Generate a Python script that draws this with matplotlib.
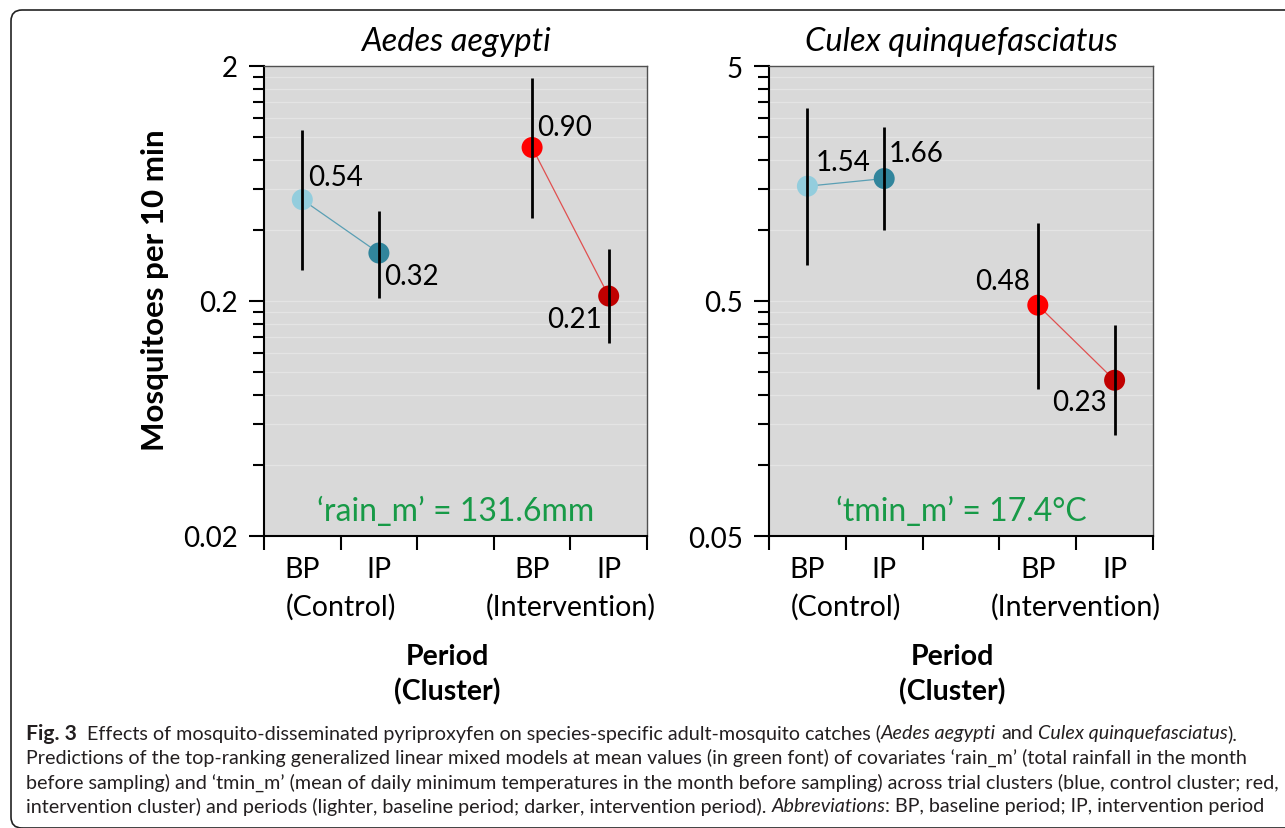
import numpy as np
import matplotlib
matplotlib.use("Agg")
import matplotlib.pyplot as plt
from matplotlib import ticker
from matplotlib.patches import FancyBboxPatch
from matplotlib.transforms import IdentityTransform

plt.rcParams['font.family'] = ['Lato', 'DejaVu Sans']

# data
periods = ["BP", "IP", "BP", "IP"]
clusters = ["(Control)", "(Intervention)"]
species = ["Aedes aegypti", "Culex quinquefasciatus"]
covariate_notes = ["\u2018rain_m\u2019 = 131.6mm", "\u2018tmin_m\u2019 = 17.4\u00b0C"]

aedes_mean = [0.54, 0.32, 0.90, 0.21]
aedes_low = [0.27, 0.205, 0.45, 0.133]
aedes_high = [1.07, 0.485, 1.78, 0.333]

culex_mean = [1.54, 1.66, 0.48, 0.23]
culex_low = [0.71, 1.0, 0.211, 0.134]
culex_high = [3.31, 2.74, 1.07, 0.397]

y_limits = [(0.02, 2), (0.05, 5)]
y_major = [[0.02, 0.2, 2], [0.05, 0.5, 5]]
y_major_labels = [["0.02", "0.2", "2"], ["0.05", "0.5", "5"]]

# styling
W, H = 1285, 829
point_colors = ["#93cddd", "#31859c", "#ff0000", "#c00000"]
pair_line_colors = ["#5a9fb4", "#e05050"]
green = "#179a47"
xpos = [0.5, 1.5, 3.5, 4.5]
label_offsets = [
    [(6, 23, "left"), (5, -23, "left"), (5, 20, "left"), (-7, -23, "right")],
    [(8, 24, "left"), (4, 26, "left"), (-8, 24, "right"), (-8, -22, "right")],
]

fig = plt.figure(figsize=(W / 100, H / 100), dpi=100)
ax_boxes = [[264 / W, 1 - 537 / H, 383 / W, 470 / H],
            [769 / W, 1 - 537 / H, 384 / W, 470 / H]]

series = [(aedes_mean, aedes_low, aedes_high), (culex_mean, culex_low, culex_high)]

for i, (mean, low, high) in enumerate(series):
    ax = fig.add_axes(ax_boxes[i])
    ax.set_facecolor("#d9d9d9")
    ax.set_yscale("log")
    ax.set_ylim(*y_limits[i])
    ax.set_xlim(0, 5)
    lo_major = y_major[i][0]
    minors = list(np.arange(2, 10) * lo_major) + list(np.arange(2, 10) * lo_major * 10)
    ax.yaxis.set_major_locator(ticker.FixedLocator(y_major[i]))
    ax.yaxis.set_major_formatter(ticker.FixedFormatter(y_major_labels[i]))
    ax.yaxis.set_minor_locator(ticker.FixedLocator(minors))
    ax.yaxis.set_minor_formatter(ticker.NullFormatter())
    ax.yaxis.grid(True, which="both", color="#e4e4e4", lw=0.9)
    ax.set_axisbelow(True)
    ax.set_xticks(range(6))
    ax.set_xticklabels([])
    ax.tick_params(axis="y", which="major", length=11, width=1.5, labelsize=20, pad=8)
    ax.tick_params(axis="y", which="minor", length=8, width=1.5)
    ax.tick_params(axis="x", length=10, width=1.5)
    for s in ["left", "bottom"]:
        ax.spines[s].set_linewidth(1.5)
        ax.spines[s].set_color("black")
    for s in ["top", "right"]:
        ax.spines[s].set_linewidth(1.0)
        ax.spines[s].set_color("#505050")

    # connecting lines per cluster
    for g in range(2):
        ax.plot(xpos[2 * g:2 * g + 2], mean[2 * g:2 * g + 2], color=pair_line_colors[g],
                lw=0.9, zorder=3)
    ax.scatter(xpos, mean, s=(21 * 0.72) ** 2, c=point_colors, zorder=4,
               edgecolors="none")
    ax.vlines(xpos, low, high, color="black", lw=2, zorder=5)

    for j, v in enumerate(mean):
        dx, dy, ha = label_offsets[i][j]
        ax.annotate(f"{v:.2f}", (xpos[j], v), xytext=(dx, dy), textcoords="offset pixels",
                    ha=ha, va="center", fontsize=20, zorder=6)

    xt = ax.get_xaxis_transform()
    for j, p in enumerate(periods):
        ax.text(xpos[j], -0.07, p, transform=xt, ha="center", va="center", fontsize=20.5)
    ax.text(1.0, -0.149, clusters[0], transform=xt, ha="center", va="center", fontsize=20.5)
    ax.text(4.0, -0.149, clusters[1], transform=xt, ha="center", va="center", fontsize=20.5)
    ax.text(0.478, -0.255, "Period", transform=ax.transAxes, ha="center", va="center",
            fontsize=20.5, fontweight="bold")
    ax.text(0.478, -0.33, "(Cluster)", transform=ax.transAxes, ha="center", va="center",
            fontsize=20.5, fontweight="bold")
    ax.text(0.5, 1.053, species[i], transform=ax.transAxes, ha="center", va="center",
            fontsize=23.5, style="italic")
    ax.text(0.5, 0.053, covariate_notes[i], transform=ax.transAxes, ha="center",
            va="center", fontsize=23, color=green)
    if i == 0:
        ax.text(-0.285, 0.526, "Mosquitoes per 10 min", transform=ax.transAxes,
                rotation=90, ha="center", va="center", fontsize=22.5, fontweight="bold")

# outer rounded frame
frame = FancyBboxPatch((11, 0), 1330, 818, boxstyle="round,pad=0,rounding_size=11",
                       transform=IdentityTransform(), fill=False, lw=1.2, ec="#222222")
fig.patches.append(frame)

# caption with mixed styles
caption = [
    [("Fig. 3", "bold"), ("  Effects of mosquito-disseminated pyriproxyfen on species-specific adult-mosquito catches (", "normal"),
     ("Aedes aegypti", "italic"), (" and ", "normal"), ("Culex quinquefasciatus", "italic"), (").", "normal")],
    [("Predictions of the top-ranking generalized linear mixed models at mean values (in green font) of covariates \u2018rain_m\u2019 (total rainfall in the month", "normal")],
    [("before sampling) and \u2018tmin_m\u2019 (mean of daily minimum temperatures in the month before sampling) across trial clusters (blue, control cluster; red,", "normal")],
    [("intervention cluster) and periods (lighter, baseline period; darker, intervention period). ", "normal"),
     ("Abbreviations", "italic"), (": BP, baseline period; IP, intervention period", "normal")],
]
cap_size = 14.2
cap_y = [734, 758, 783, 807]
renderer = fig.canvas.get_renderer()


def width_of(s, **kw):
    t = fig.text(0, 0, s, fontsize=cap_size, **kw)
    w = t.get_window_extent(renderer).width
    t.remove()
    return w


space_w = width_of("a a") - width_of("aa")
for line, yy in zip(caption, cap_y):
    x = 26
    for txt, sty in line:
        kw = {}
        if sty == "bold":
            kw["fontweight"] = "bold"
            kw["fontsize"] = cap_size + 1
        elif sty == "italic":
            kw["style"] = "italic"
        lead = len(txt) - len(txt.lstrip(" "))
        trail = len(txt) - len(txt.rstrip(" "))
        core = txt.strip(" ")
        x += lead * space_w
        kw.setdefault("fontsize", cap_size)
        t = fig.text(x / W, 1 - yy / H, core, va="center", ha="left",
                     color="#231f20", **kw)
        x += t.get_window_extent(renderer).width
        x += trail * space_w

fig.savefig("out.png", dpi=100)
